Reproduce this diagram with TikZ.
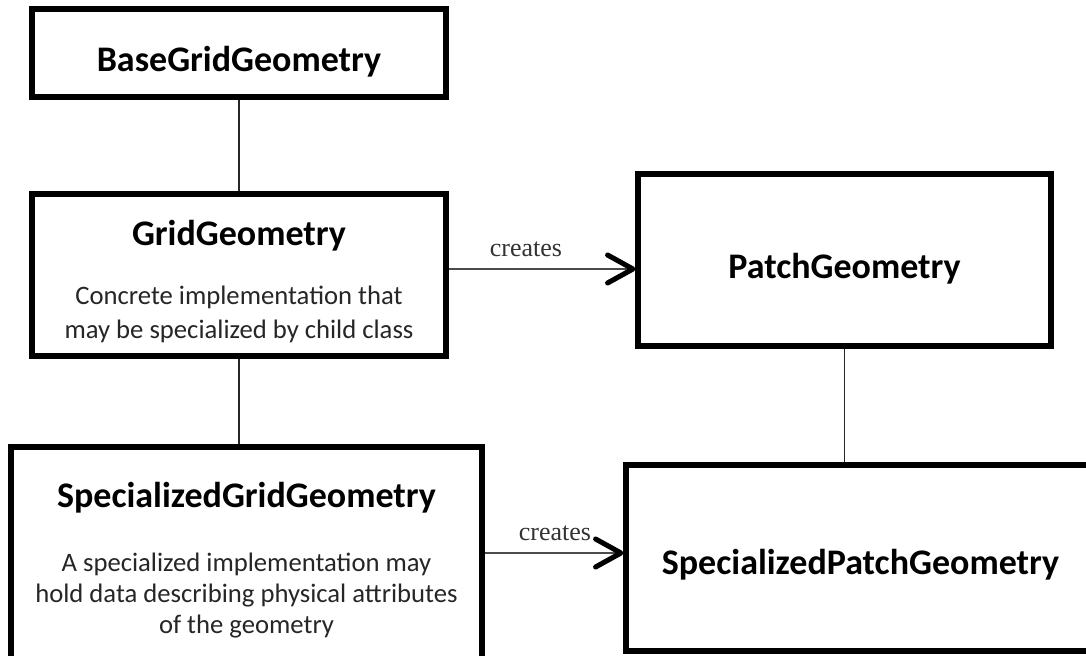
\documentclass[tikz,border=0pt]{standalone}
\usepackage{fontspec}
\setmainfont{Carlito}
\newfontfamily\relfont{Liberation Serif}
\usetikzlibrary{arrows.meta,calc}

\begin{document}
\begin{tikzpicture}[x=0.75pt,y=-0.75pt,
  box/.style={draw, line width=3.8pt, inner sep=0pt, fill=white},
  title/.style={font=\fontsize{27}{32}\selectfont\bfseries, anchor=base},
  desc/.style={font=\fontsize{20}{#1}\selectfont, align=center, anchor=base, text=black!85},
  link/.style={line width=1.1pt, draw=black!85},
  creates/.style={line width=1.4pt, draw=black!70,
    -{Straight Barb[length=19pt,width=21pt,line width=3.8pt,round,color=black]}},
  rel/.style={font=\relfont\fontsize{19.5}{22}\selectfont, anchor=base, text=black!80}]

\useasboundingbox[fill=white] (0,0) rectangle (1086,656);

% class boxes
\node[box, minimum width=414*0.75pt, minimum height=88*0.75pt]  (Base)      at (239,53)    {};
\node[box, minimum width=414*0.75pt, minimum height=162*0.75pt] (Grid)      at (239,275)   {};
\node[box, minimum width=413*0.75pt, minimum height=172*0.75pt] (Patch)     at (844.5,260) {};
\node[box, minimum width=471*0.75pt, minimum height=218*0.75pt] (SpecGrid)  at (246.5,556) {};
\node[box, minimum width=469*0.75pt, minimum height=186*0.75pt] (SpecPatch) at (860.5,558) {};

% class names and notes (a note's base is the baseline of its last line)
\node[title] (BaseName)      at (239,72)    {BaseGridGeometry};
\node[title] (GridName)      at (239,246)   {GridGeometry};
\node[desc=25.5pt] (GridNote) at (239,339)  {Concrete implementation that\\may be specialized by child class};
\node[title] (PatchName)     at (844.5,278) {PatchGeometry};
\node[title] (SpecGridName)  at (246.5,507) {SpecializedGridGeometry};
\node[desc=22.9pt] (SpecGridNote) at (246.5,633) {A specialized implementation may\\hold data describing physical attributes\\of the geometry};
\node[title] (SpecPatchName) at (860.5,574) {SpecializedPatchGeometry};

% inheritance links
\draw[link] (Base.south) -- (Grid.north);
\draw[link] (Grid.south) -- (Grid.south |- SpecGrid.north);
\draw[link] (Patch.south) -- (Patch.south |- SpecPatch.north);

% "creates" relations
\coordinate (row1) at (0,269);
\coordinate (row2) at (0,553);
\draw[creates] (Grid.east |- row1) -- (Patch.west |- row1);
\draw[creates] (SpecGrid.east |- row2) -- (SpecPatch.west |- row2);
\node[rel] (Creates1) at (526,257) {creates};
\node[rel] (Creates2) at (555,540) {creates};

\end{tikzpicture}
\end{document}
